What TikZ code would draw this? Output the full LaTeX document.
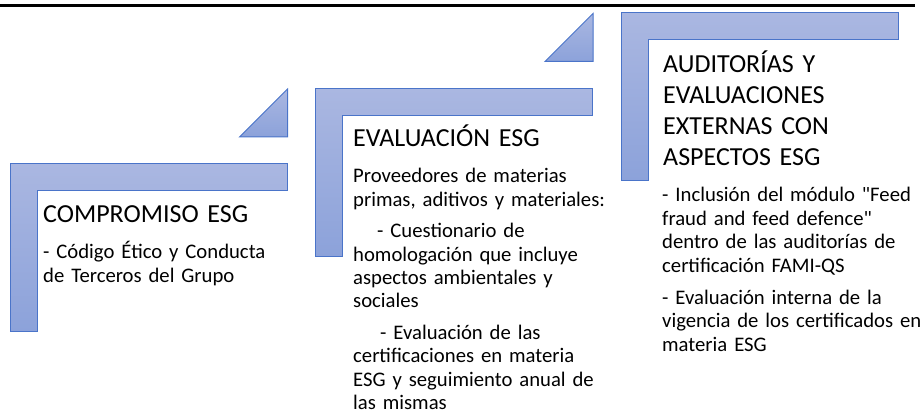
\documentclass[tikz,border=0pt]{standalone}
\usepackage{fontspec}
\setmainfont{Carlito}[Ligatures=TeXOff]
\definecolor{BarTop}{HTML}{AAB7E1}
\definecolor{BarBottom}{HTML}{8CA2DA}
\definecolor{BarEdge}{HTML}{4A74C9}
\tikzset{
  bar/.style={draw=BarEdge,line width=1pt,top color=BarTop,bottom color=BarBottom},
  stagetitle/.style={anchor=base west,inner sep=0pt,text width=#1,align=left,
    font=\fontsize{26}{30.8}\selectfont},
  stagebody/.style={anchor=base west,inner sep=0pt,text width=#1,align=left,
    font=\fontsize{20.7}{23.4}\selectfont}
}
\begin{document}
\begin{tikzpicture}[x=1pt,y=-1pt]
    \useasboundingbox (0,0) rectangle (922,414);
    \draw[line width=2.5pt] (0,5.5) -- (915,5.5);
    % bent bars, one per stage
    \foreach \ox/\oy in {10/164,315.5/89,621/13}{
      \draw[bar] (\ox,\oy) -- ++(277,0) -- ++(0,27) -- ++(-250,0)
        -- ++(0,140.5) -- ++(-27,0) -- cycle;}
    % small steps between the stages
    \foreach \tx/\ty in {287.5/89,593/13.5}{
      \draw[bar] (\tx,\ty) -- ++(0,48) -- ++(-48,0) -- cycle;}
    \node[stagetitle=240pt] (compromiso) at (43,223) {COMPROMISO ESG};
    \node[stagebody=250pt] (compromisotxt) at (43,259)
      {- Código Ético y Conducta\\de Terceros del Grupo};
    \node[stagetitle=240pt] (evaluacion) at (353,147) {EVALUACIÓN ESG};
    \node[stagebody=262pt] (evaluaciontxt) at (353,183)
      {Proveedores de materias\\primas, aditivos y materiales:\\[8pt]
       \hspace*{24pt}- Cuestionario de\\homologación que incluye\\
       aspectos ambientales y\\sociales\\[8pt]
       \hspace*{27pt}- Evaluación de las\\certificaciones en materia\\
       ESG y seguimiento anual de\\las mismas};
    \node[stagetitle=240pt] (auditorias) at (663,72.7)
      {AUDITORÍAS Y\\EVALUACIONES\\EXTERNAS CON\\ASPECTOS ESG};
    \node[stagebody=300pt] (auditoriastxt) at (662,202)
      {- Inclusión del módulo "Feed\\fraud and feed defence"\\
       dentro de las auditorías de\\certificación FAMI-QS\\[9pt]
       - Evaluación interna de la\\vigencia de los certificados en\\materia ESG};
\end{tikzpicture}
\end{document}
